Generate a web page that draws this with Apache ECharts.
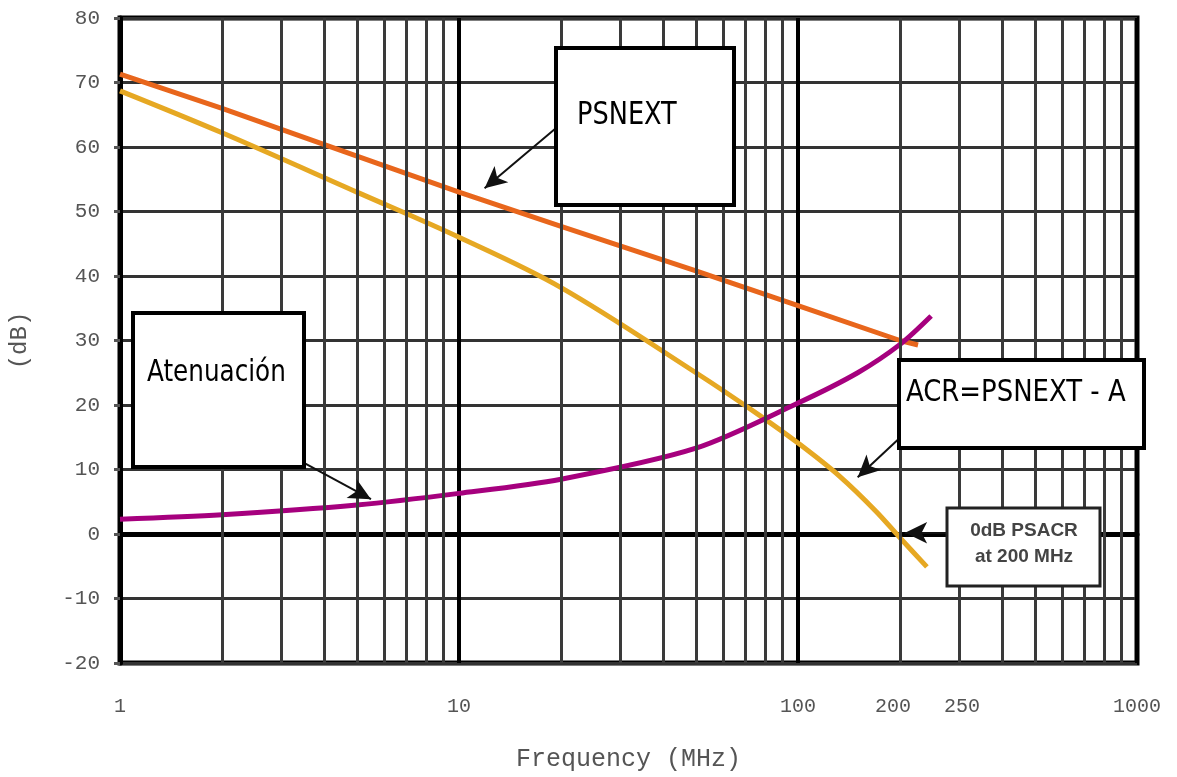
<!DOCTYPE html>
<html>
<head>
<meta charset="utf-8">
<script src="https://cdn.jsdelivr.net/npm/echarts@6/dist/echarts.min.js"></script>
<style>
  html, body { margin: 0; padding: 0; background: #fff; }
  #chart { width: 1177px; height: 777px; }
</style>
</head>
<body>
<div id="chart"></div>
<script>
// values (frequency in MHz, level in dB)
const psnextFreq = [1, 2, 5, 10, 20, 50, 100, 200, 226]
const psnextDb = [71.3, 66.0, 58.6, 53.0, 47.7, 40.8, 35.4, 30.0, 29.3]
const acrFreq = [1, 2, 5, 10, 20, 50, 77, 100, 133, 170, 200, 240]
const acrDb = [68.7, 62.2, 53.0, 46.0, 38.2, 25.0, 18.4, 14.1, 8.9, 3.5, -0.6, -5.1]
const attFreq = [1, 2, 5, 10, 20, 50, 100, 150, 200, 247]
const attDb = [2.3, 3.0, 4.5, 6.3, 8.5, 13.3, 20.3, 25.0, 29.4, 33.8]

// minor decade grid lines of the log axis
const minorGrid = [2, 3, 4, 5, 6, 7, 8, 9, 20, 30, 40, 50, 60, 70, 80, 90,
  200, 300, 400, 500, 600, 700, 800, 900]
const extraTickLabels = [200, 250]

// annotation arrows: [from, to] as [MHz, dB]
const arrowPsnext = [[19.3, 62.9], [11.9, 53.6]]
const arrowAtt = [[3.5, 11.0], [5.5, 5.4]]
const arrowAcr = [[197, 14.6], [150, 8.8]]
const arrowZero = [[275, 0.2], [207, 0.2]]

const pair = (f, v) => f.map((x, i) => [x, v[i]])
const monoFont = '"Liberation Mono", "DejaVu Sans Mono", monospace'
const boxFont = '"DejaVu Sans Condensed", "DejaVu Sans", sans-serif'

function box(x, y, w, h, lines, opts) {
  opts = opts || {}
  return {
    type: 'group',
    z: 100,
    children: [
      {
        type: 'rect',
        z: 100,
        shape: { x: x, y: y, width: w, height: h },
        style: { fill: '#fff', stroke: opts.stroke || '#000', lineWidth: opts.lineWidth || 4 }
      },
      {
        type: 'text',
        z: 101,
        x: opts.tx,
        y: opts.ty,
        scaleX: opts.scaleX || 1,
        style: {
          text: lines,
          font: opts.font,
          fill: opts.color || '#000',
          lineHeight: opts.lineHeight,
          align: opts.align || 'left'
        }
      }
    ]
  }
}

const chart = echarts.init(document.getElementById('chart'))
chart.setOption({
  animation: false,
  backgroundColor: '#fff',
  grid: {
    left: 120,
    right: 40,
    top: 18,
    bottom: 114,
    show: true,
    borderColor: '#000',
    borderWidth: 5
  },
  xAxis: {
    type: 'log',
    logBase: 10,
    min: 1,
    max: 1000,
    name: 'Frequency (MHz)',
    nameLocation: 'middle',
    nameGap: 84,
    nameTextStyle: { fontFamily: monoFont, fontSize: 25, color: '#555' },
    axisLine: { lineStyle: { color: '#000', width: 5 } },
    axisTick: { show: false },
    axisLabel: {
      fontFamily: monoFont,
      fontSize: 20,
      color: '#555',
      margin: 34,
      formatter: (v) => String(v)
    },
    splitLine: { lineStyle: { color: '#000', width: 4 } }
  },
  yAxis: {
    type: 'value',
    min: -20,
    max: 80,
    interval: 10,
    name: '(dB)',
    nameLocation: 'middle',
    nameGap: 88,
    nameRotate: 90,
    nameTextStyle: { fontFamily: monoFont, fontSize: 24, color: '#555' },
    axisLine: { lineStyle: { color: '#000', width: 5 } },
    axisTick: { show: true, length: 6, lineStyle: { color: '#555', width: 3 } },
    axisLabel: { fontFamily: monoFont, fontSize: 21, color: '#555', margin: 20 },
    splitLine: { lineStyle: { color: '#333', width: 3 } }
  },
  graphic: [
    box(556, 48, 178, 157, 'PSNEXT', { tx: 577, ty: 100, font: '32px ' + boxFont, scaleX: 0.89 }),
    box(133, 313, 171, 154, 'Atenuación', { tx: 147, ty: 357, font: '31px ' + boxFont, scaleX: 0.885 }),
    box(899, 360, 245, 88, 'ACR=PSNEXT - A', { tx: 906, ty: 377, font: '31px ' + boxFont, scaleX: 0.93 }),
    box(947, 508, 153, 78, '0dB PSACR\nat 200 MHz', {
      tx: 1024, ty: 518, font: 'bold 19px "Liberation Sans", Arial, sans-serif',
      color: '#444', lineHeight: 26, align: 'center', stroke: '#222', lineWidth: 3
    })
  ],
  series: [
    {
      name: 'grid',
      type: 'line',
      data: [],
      z: 1,
      silent: true,
      markLine: {
        silent: true,
        symbol: 'none',
        label: { show: false },
        lineStyle: { color: '#3a3a3a', width: 3, type: 'solid' },
        data: minorGrid.map((f) => ({ xAxis: f }))
      }
    },
    {
      name: 'tickLabels',
      type: 'line',
      data: [],
      z: 1,
      silent: true,
      markLine: {
        silent: true,
        symbol: 'none',
        lineStyle: { color: 'rgba(0,0,0,0)', width: 1, type: 'solid' },
        label: {
          show: true,
          position: 'start',
          distance: 34,
          fontFamily: monoFont,
          fontSize: 20,
          color: '#555',
          formatter: (p) => String(p.value)
        },
        data: extraTickLabels.map((f, i) => ({ xAxis: f, label: { offset: i === 0 ? [-7, 0] : [29, 0] } }))
      }
    },
    {
      name: 'PSNEXT',
      type: 'line',
      data: pair(psnextFreq, psnextDb),
      symbol: 'none',
      z: 3,
      lineStyle: { color: '#e8661c', width: 5 }
    },
    {
      name: 'ACR',
      type: 'line',
      data: pair(acrFreq, acrDb),
      smooth: 0.35,
      symbol: 'none',
      z: 3,
      lineStyle: { color: '#e6a823', width: 5 }
    },
    {
      name: 'Atenuación',
      type: 'line',
      data: pair(attFreq, attDb),
      smooth: 0.3,
      symbol: 'none',
      z: 4,
      lineStyle: { color: '#a6007e', width: 5 }
    },
    {
      name: 'arrows',
      type: 'line',
      data: [],
      z: 5,
      silent: true,
      markLine: {
        silent: true,
        symbol: ['none', 'arrow'],
        symbolSize: [16, 22],
        label: { show: false },
        lineStyle: { color: '#111', width: 2, type: 'solid' },
        data: [arrowPsnext, arrowAtt, arrowAcr, arrowZero].map((a) => [
          { coord: a[0] }, { coord: a[1] }
        ])
      }
    }
  ]
})
</script>
</body>
</html>
